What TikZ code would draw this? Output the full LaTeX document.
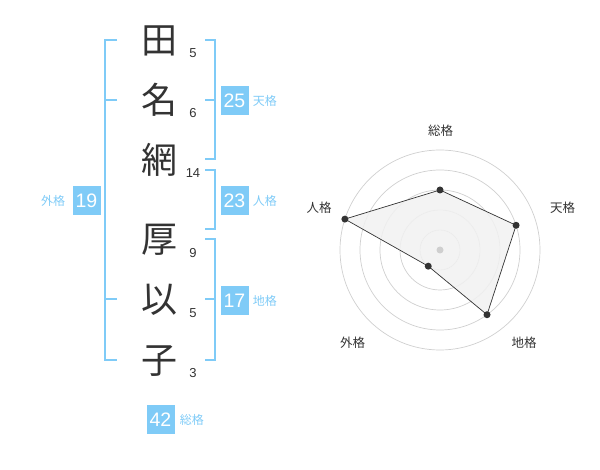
\documentclass[tikz,border=0pt]{standalone}
\usepackage{fontspec}
\setmainfont{Liberation Sans}
\newfontfamily\jpfont{Noto Sans CJK JP}
\usetikzlibrary{positioning}
\definecolor{kakublue}{HTML}{7FCBF7}
\definecolor{inkgray}{HTML}{333333}
\definecolor{ringgray}{HTML}{CFCFCF}
\definecolor{areagray}{HTML}{F1F1F1}

\begin{document}
\begin{tikzpicture}[x=1pt,y=-1pt,
	kanji/.style={text=inkgray,font=\jpfont\fontsize{36}{36}\selectfont,inner sep=0pt},
	strokes/.style={text=inkgray,font=\fontsize{13}{13}\selectfont,inner sep=0pt},
	kakubox/.style={fill=kakublue,text=white,minimum width=28pt,minimum height=29pt,inner sep=0pt,font=\fontsize{19.5}{19.5}\selectfont},
	kakulabel/.style={text=kakublue,font=\jpfont\fontsize{12}{12}\selectfont,inner sep=0pt},
	bracket/.style={draw=kakublue,line width=2pt},
	axislabel/.style={text=inkgray,font=\jpfont\fontsize{12.5}{12.5}\selectfont,inner sep=0pt},
	ring/.style={draw=ringgray,line width=0.7pt},
	dot/.style={circle,fill=inkgray,inner sep=0pt,minimum size=7pt}]
	\useasboundingbox (0,0) rectangle (600,470);
	
	\node[kanji] (c1) at (159.5,41) {田};
	\node[kanji] (c2) at (159.5,100) {名};
	\node[kanji] (c3) at (159.5,160) {網};
	\node[kanji] (c4) at (159.5,240) {厚};
	\node[kanji] (c5) at (159.5,300) {以};
	\node[kanji] (c6) at (159.5,361) {子};
	
	\node[strokes] (s1) at (193,53) {5};
	\node[strokes] (s2) at (193,113) {6};
	\node[strokes] (s3) at (193,173) {14};
	\node[strokes] (s4) at (193,253) {9};
	\node[strokes] (s5) at (193,313) {5};
	\node[strokes] (s6) at (193,373) {3};
	
	\draw[bracket] (117,40) -- (105,40) -- (105,360) -- (117,360);
	\draw[bracket] (117,100) -- (105,100);
	\draw[bracket] (117,299) -- (105,299);
	\draw[bracket] (205,40) -- (215,40) -- (215,159) -- (205,159);
	\draw[bracket] (205,100) -- (215,100);
	\draw[bracket] (205,170) -- (215,170) -- (215,229) -- (205,229);
	\draw[bracket] (205,239) -- (215,239) -- (215,360) -- (205,360);
	\draw[bracket] (205,299) -- (215,299);
	
	\node[kakubox] (ten) at (234.5,100.5) {25};
	\node[kakubox] (jin) at (234.5,200.5) {23};
	\node[kakubox] (chi) at (234.5,300.5) {17};
	\node[kakubox] (gai) at (86.5,200.5) {19};
	\node[kakubox] (sou) at (160.5,419.5) {42};
	\node[kakulabel,right=4pt of ten] (tenl) {天格};
	\node[kakulabel,right=4pt of jin] (jinl) {人格};
	\node[kakulabel,right=4pt of chi] (chil) {地格};
	\node[kakulabel,left=7pt of gai] (gail) {外格};
	\node[kakulabel,right=5pt of sou] (soul) {総格};
	
	\coordinate (c) at (440,250);
	\foreach \r in {20,40,60,80,100}
		\draw[ring] (c) circle[radius=\r pt];
	\coordinate (psou) at ([shift={(90:60pt)}]c);
	\coordinate (pten) at ([shift={(18:80pt)}]c);
	\coordinate (pchi) at ([shift={(-54:80pt)}]c);
	\coordinate (pgai) at ([shift={(-126:20pt)}]c);
	\coordinate (pjin) at ([shift={(162:100pt)}]c);
	\draw[fill=areagray,fill opacity=0.85,draw=inkgray,line width=0.7pt] (psou) -- (pten) -- (pchi) -- (pgai) -- (pjin) -- cycle;
	\fill[ringgray] (c) circle[radius=3.5pt];
	\foreach \p in {psou,pten,pchi,pgai,pjin}
		\node[dot] at (\p) {};
	
	\node[axislabel] (asou) at (440.5,130.5) {総格};
	\node[axislabel] (aten) at (562.5,208) {天格};
	\node[axislabel] (ajin) at (319,208) {人格};
	\node[axislabel] (achi) at (524,342.5) {地格};
	\node[axislabel] (agai) at (352.5,342.5) {外格};
\end{tikzpicture}
\end{document}
